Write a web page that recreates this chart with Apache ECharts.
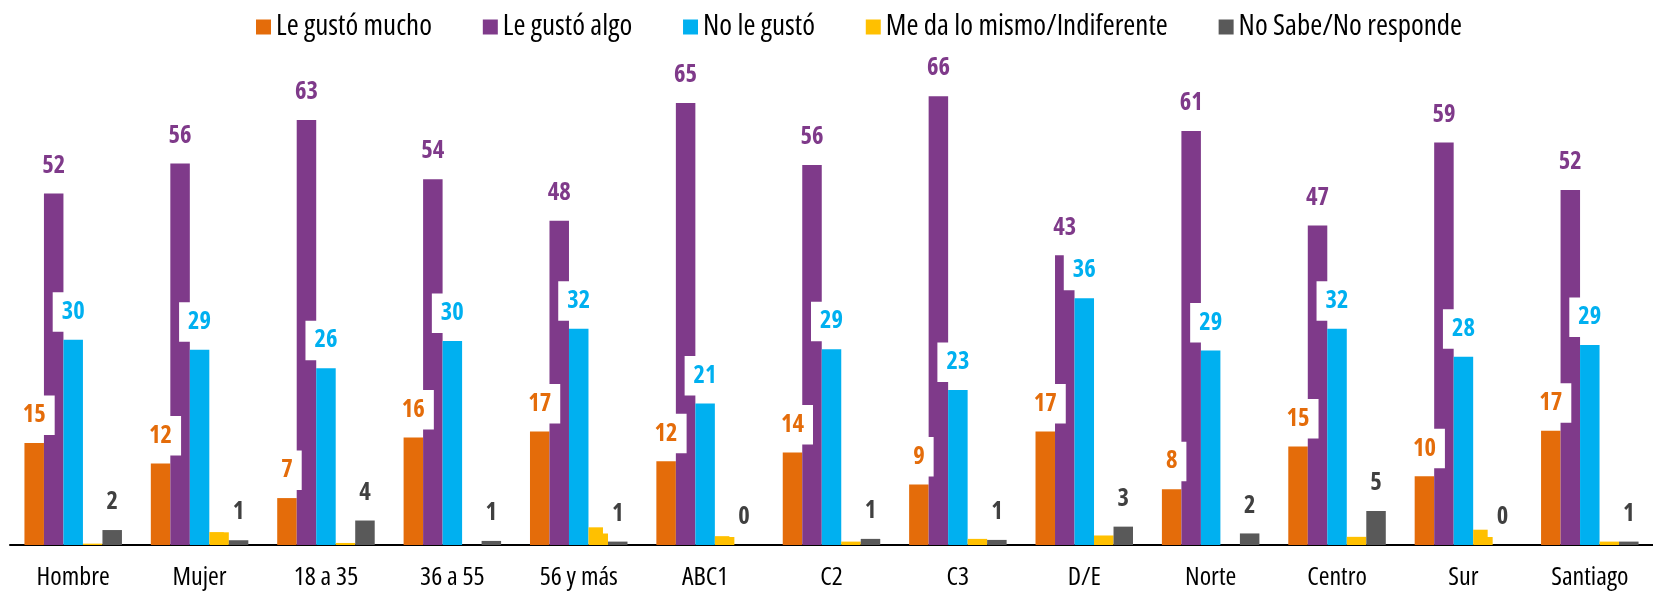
<!DOCTYPE html>
<html>
<head>
<meta charset="utf-8">
<script src="https://cdn.jsdelivr.net/npm/echarts@6/dist/echarts.min.js"></script>
<style>
html,body{margin:0;padding:0;background:#fff;}
#chart{width:1653px;height:591px;}
</style>
</head>
<body>
<div id="chart"></div>
<script>
const categories = ['Hombre','Mujer','18 a 35','36 a 55','56 y más','ABC1','C2','C3','D/E','Norte','Centro','Sur','Santiago'];
const seriesNames = ['Le gustó mucho','Le gustó algo','No le gustó','Me da lo mismo/Indiferente','No Sabe/No responde'];
const gustoMucho = [15, 12, 6.9, 15.8, 16.7, 12.3, 13.6, 8.9, 16.7, 8.2, 14.5, 10.1, 16.8];
const gustoAlgo = [51.7, 56.1, 62.5, 53.8, 47.7, 65, 55.9, 66, 42.6, 60.9, 47, 59.2, 52.2];
const noGusto = [30.2, 28.7, 26, 30, 31.8, 20.8, 28.8, 22.8, 36.3, 28.6, 31.8, 27.7, 29.4];
const indiferente = [0.2, 1.9, 0.3, 0, 2.6, 1.3, 0.5, 0.9, 1.4, 0, 1.2, 2.25, 0.5];
const noSabe = [2.2, 0.7, 3.6, 0.6, 0.5, 0, 0.9, 0.75, 2.7, 1.7, 5.0, 0, 0.5];

const colors = ['#E46C0A','#7F3A8A','#00B0F0','#FFC000','#595959'];
const labelColors = ['#E46C0A','#7F3A8A','#00B0F0',null,'#404040'];
const dataSets = [gustoMucho, gustoAlgo, noGusto, indiferente, noSabe];

// choose the installed face closest to Arial Narrow proportions
const cvs = document.createElement('canvas');
const ctx = cvs.getContext('2d');
function measure(font, txt) { ctx.font = font; return ctx.measureText(txt).width; }
const probe = 'Le gustó mucho Hombre Santiago 0123';
const monoW = measure('100px monospace', probe);
function pick(weight) {
  const refW = measure(weight + ' 100px "Liberation Sans"', probe);
  const opts = [];
  const other = weight === 'bold' ? 'normal' : 'bold';
  ['Liberation Sans Narrow','Arial Narrow','Noto Sans ExtraCondensed','Noto Sans Condensed','Noto Sans SemiCondensed','Roboto Condensed','Open Sans Condensed','DejaVu Sans Condensed'].forEach(f => {
    const w = measure(weight + ' 100px "' + f + '", monospace', probe);
    const wo = measure(other + ' 100px "' + f + '", monospace', probe);
    if (Math.abs(w - monoW) > 0.5 && Math.abs(w - wo) > 0.01 * w) opts.push({ st: 'normal', fam: f, w: w });
  });
  ['Noto Sans','Open Sans','Roboto','DejaVu Sans','Inter','Liberation Sans'].forEach(f => {
    const w0 = measure(weight + ' 100px "' + f + '"', probe);
    ['semi-condensed','condensed','extra-condensed'].forEach(st => {
      const w = measure(st + ' ' + weight + ' 100px "' + f + '"', probe);
      const wo = measure(st + ' ' + other + ' 100px "' + f + '"', probe);
      if (w < w0 * 0.97 && Math.abs(w - wo) > 0.01 * w) opts.push({ st: st, fam: f, w: w });
    });
  });
  let best = { st: 'normal', fam: 'Liberation Sans' };
  let bestD = 0.18;
  opts.forEach(o => {
    const r = o.w / refW;
    if (r < 0.95 && Math.abs(r - 0.82) < bestD) { bestD = Math.abs(r - 0.82); best = o; }
  });
  return { style: best.st, font: '"' + best.fam + '", "Liberation Sans", sans-serif' };
}
const REG = pick('normal');
const BOLD = pick('bold');
function textW(f, weight, size, txt) {
  return measure(f.style + ' ' + weight + ' ' + size + 'px ' + f.font, txt);
}
function sizeFor(f, weight, txt, targetW) {
  return 100 * targetW / textW(f, weight, 100, txt);
}
const legendSize = Math.min(29, sizeFor(REG, 'normal', 'Le gustó mucho', 162));
const axisSize = Math.min(26, sizeFor(REG, 'normal', 'Hombre', 75.7));
const labelSize = Math.max(22, Math.min(24.5, sizeFor(BOLD, 'bold', '15', 23)));
// spread legend items over the same span as the reference (x 251 to 1457)
const legendTextSum = seriesNames.reduce((s, n) => s + textW(REG, 'normal', legendSize, n), 0);
const legendGap = Math.max(30, (1206 - 5 * 20 - legendTextSum) / 4);

const chart = echarts.init(document.getElementById('chart'));
const series = dataSets.map((d, i) => ({
  name: seriesNames[i],
  type: 'bar',
  data: d,
  barWidth: 19.5,
  barGap: '0%',
  itemStyle: { color: colors[i] },
  label: {
    show: labelColors[i] !== null,
    position: 'top',
    distance: 8,
    fontFamily: BOLD.font,
    fontStyle: BOLD.style,
    fontSize: labelSize,
    fontWeight: 'bold',
    color: labelColors[i] || '#000',
    backgroundColor: '#fff',
    padding: [(39 - labelSize) / 2, 9],
    formatter: p => String(Math.round(p.value))
  }
}));

chart.setOption({
  animation: false,
  color: colors,
  legend: {
    top: 26 - legendSize / 2 - 4,
    left: 251,
    itemWidth: 15,
    itemHeight: 15,
    itemGap: legendGap,
    icon: 'rect',
    textStyle: { fontFamily: REG.font, fontStyle: REG.style, fontWeight: 'normal', fontSize: legendSize, color: '#000' },
    data: seriesNames
  },
  grid: { left: 10, top: 1, width: 1655, bottom: 46 },
  xAxis: {
    type: 'category',
    data: categories,
    axisLine: { lineStyle: { color: '#000', width: 2 } },
    axisTick: { show: false },
    axisLabel: { fontFamily: REG.font, fontStyle: REG.style, fontWeight: 'normal', fontSize: axisSize, color: '#000', margin: 20, interval: 0 }
  },
  yAxis: { type: 'value', min: 0, max: 80, show: false, splitLine: { show: false } },
  series: series
});
</script>
</body>
</html>
